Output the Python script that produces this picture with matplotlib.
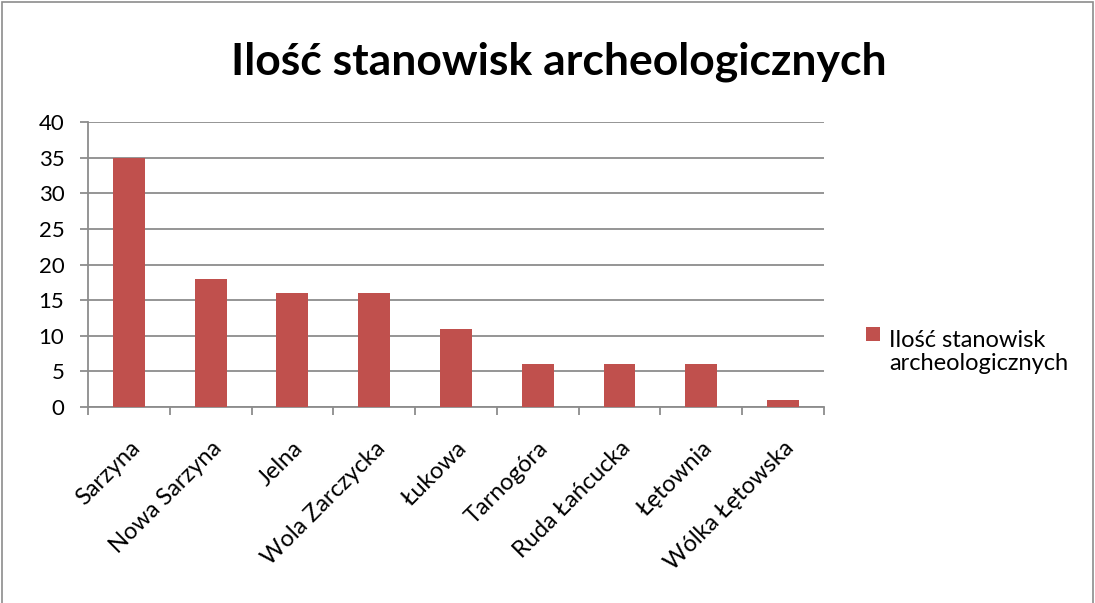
import matplotlib
matplotlib.use("Agg")
import matplotlib.pyplot as plt
from matplotlib.patches import Rectangle
import numpy as np

plt.rcParams['font.family'] = ['Lato', 'DejaVu Sans']

categories = ["Sarzyna", "Nowa Sarzyna", "Jelna", "Wola Zarczycka", "Łukowa",
              "Tarnogóra", "Ruda Łańcucka", "Łętownia", "Wólka Łętowska"]
values = [35, 18, 16, 16, 11, 6, 6, 6, 1]
series_name = "Ilość stanowisk archeologicznych"
title = "Ilość stanowisk archeologicznych"
yticks = [0, 5, 10, 15, 20, 25, 30, 35, 40]

bar_color = "#c0504d"
grid_color = "#8c8c8c"

fig = plt.figure(figsize=(10.95, 6.03), dpi=100)
# chart border
fig.patches.append(Rectangle((0.002, -0.01), 0.996, 1.006, transform=fig.transFigure,
                             fill=False, edgecolor="#8c8c8c", linewidth=1.2))

ax = fig.add_axes([0.0804, 0.325, 0.672, 0.4726])
x = np.arange(len(categories))
bars = ax.bar(x, values, width=0.39, color=bar_color, zorder=3, label=series_name)

ax.set_xlim(-0.5, len(categories) - 0.5)
ax.set_ylim(0, 40)
ax.set_yticks(yticks)
ax.yaxis.grid(True, color=grid_color, linewidth=1.3, zorder=0)
ax.set_axisbelow(True)

for s in ["top", "right"]:
    ax.spines[s].set_visible(False)
for s in ["left", "bottom"]:
    ax.spines[s].set_color(grid_color)
    ax.spines[s].set_linewidth(1.3)

# tick marks between categories, labels under bar centres
ax.set_xticks(np.arange(len(categories) + 1) - 0.5, minor=False)
ax.set_xticklabels([])
ax.set_xticks(x, minor=True)
ax.set_xticklabels(categories, minor=True, rotation=45, ha="right", va="top",
                   rotation_mode="anchor", fontsize=17)
ax.tick_params(axis="x", which="major", direction="out", length=6, color=grid_color, width=1.3)
ax.tick_params(axis="x", which="minor", length=0, pad=22)
ax.tick_params(axis="y", direction="out", length=6, color=grid_color, width=1.3,
               labelsize=16, pad=11)

fig.text(0.51, 0.897, title, ha="center", va="center", fontsize=32, fontweight="bold")

# legend
fig.patches.append(Rectangle((866 / 1095, 1 - 341 / 603), 14 / 1095, 14 / 603,
                             transform=fig.transFigure, facecolor=bar_color, edgecolor="none"))
fig.text(889 / 1095, 1 - 352 / 603, "Ilość stanowisk\narcheologicznych", ha="left", va="center",
         fontsize=17, linespacing=1.15)

fig.savefig("out.png", dpi=100)
